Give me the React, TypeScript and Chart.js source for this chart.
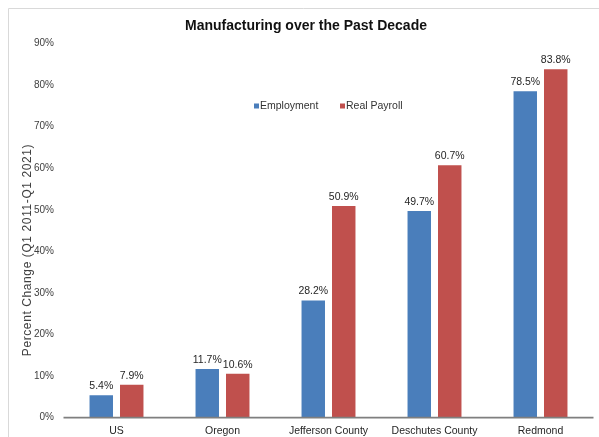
import React, { useEffect, useRef } from "react";
import { Chart, registerables } from "chart.js";

Chart.register(...registerables);

const categories = ["US", "Oregon", "Jefferson County", "Deschutes County", "Redmond"];
const employment = [5.4, 11.7, 28.2, 49.7, 78.5];
const realPayroll = [7.9, 10.6, 50.9, 60.7, 83.8];
const seriesNames = ["Employment", "Real Payroll"];
const seriesColors = ["#4A7EBB", "#C0504D"];
const titleText = "Manufacturing over the Past Decade";
const yTitleText = "Percent Change (Q1 2011-Q1 2021)";

const FONT = "'Liberation Sans', Arial, sans-serif";

const decorPlugin = {
  id: "decor",
  afterDraw(chart: any) {
    const ctx = chart.ctx as CanvasRenderingContext2D;
    const area = chart.chartArea;
    ctx.save();

    // frame border (top & left)
    ctx.strokeStyle = "#d9d9d9";
    ctx.lineWidth = 1;
    ctx.beginPath();
    ctx.moveTo(8.5, 437);
    ctx.lineTo(8.5, 8.5);
    ctx.lineTo(599, 8.5);
    ctx.stroke();

    // x axis line
    const y0 = chart.scales.y.getPixelForValue(0);
    ctx.strokeStyle = "#7f7f7f";
    ctx.lineWidth = 1.75;
    ctx.beginPath();
    ctx.moveTo(area.left, y0);
    ctx.lineTo(area.right, y0);
    ctx.stroke();

    // title
    ctx.fillStyle = "#111";
    ctx.font = `bold 14px ${FONT}`;
    ctx.textAlign = "center";
    ctx.textBaseline = "alphabetic";
    ctx.fillText(titleText, 306, 30);

    // y title
    ctx.save();
    ctx.translate(30.5, 250);
    ctx.rotate(-Math.PI / 2);
    ctx.font = `12px ${FONT}`;
    (ctx as any).letterSpacing = "0.6px";
    ctx.fillStyle = "#404040";
    ctx.textAlign = "center";
    ctx.textBaseline = "alphabetic";
    ctx.fillText(yTitleText, 0, 0);
    ctx.restore();

    // legend
    const legendX = [254, 340];
    const legendY = 106;
    ctx.font = `10.5px ${FONT}`;
    ctx.textBaseline = "middle";
    ctx.textAlign = "left";
    seriesNames.forEach((name, i) => {
      ctx.fillStyle = seriesColors[i];
      ctx.fillRect(legendX[i], legendY - 2.5, 5, 5);
      ctx.fillStyle = "#333";
      ctx.fillText(name, legendX[i] + 6, legendY);
    });

    // data labels
    ctx.font = `10.5px ${FONT}`;
    ctx.fillStyle = "#262626";
    ctx.textAlign = "center";
    ctx.textBaseline = "alphabetic";
    chart.data.datasets.forEach((ds: any, di: number) => {
      const meta = chart.getDatasetMeta(di);
      meta.data.forEach((el: any, i: number) => {
        ctx.fillText(ds.data[i].toFixed(1) + "%", el.x, el.y - 6);
      });
    });

    ctx.restore();
  },
};

export default function App() {
  const ref = useRef<HTMLCanvasElement>(null);
  useEffect(() => {
    if (!ref.current) return;
    const chart = new Chart(ref.current, {
      type: "bar",
      data: {
        labels: categories,
        datasets: [
          {
            label: seriesNames[0],
            data: employment,
            backgroundColor: seriesColors[0],
            categoryPercentage: 0.575,
            barPercentage: 0.77,
          },
          {
            label: seriesNames[1],
            data: realPayroll,
            backgroundColor: seriesColors[1],
            categoryPercentage: 0.575,
            barPercentage: 0.77,
          },
        ],
      },
      options: {
        responsive: false,
        animation: false,
        layout: { padding: { left: 0, right: 5.5, top: 43.5, bottom: 0 } },
        plugins: {
          legend: { display: false },
          title: { display: false },
          tooltip: { enabled: false },
        },
        scales: {
          x: {
            grid: { display: false, drawTicks: false },
            border: { display: false },
            ticks: {
              font: { family: FONT, size: 10.5 },
              color: "#262626",
              padding: 7,
              maxRotation: 0,
              autoSkip: false,
            },
            afterFit(scale: any) {
              scale.height = 19.3;
            },
          },
          y: {
            min: 0,
            max: 90,
            grid: { display: false, drawTicks: false },
            border: { display: false },
            ticks: {
              stepSize: 10,
              font: { family: FONT, size: 10 },
              color: "#404040",
              padding: 9.5,
              callback: (v: any) => v + "%",
            },
            afterFit(scale: any) {
              scale.width = 63.5;
            },
          },
        },
      },
      plugins: [decorPlugin],
    });
    return () => chart.destroy();
  }, []);
  return (
    <div style={{ position: "fixed", left: 0, top: 0, width: 599, height: 437, background: "#fff" }}>
      <canvas ref={ref} width={599} height={437} style={{ display: "block" }} />
    </div>
  );
}
